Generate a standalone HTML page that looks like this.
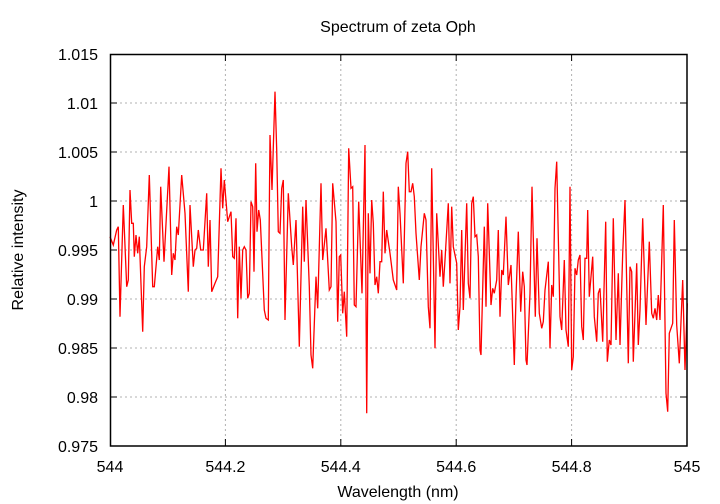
<!DOCTYPE html>
<html><head><meta charset="utf-8"><style>
body{margin:0;background:#fff;}
svg{display:block;font-family:"Liberation Sans",Arial,sans-serif;}
</style></head><body>
<svg id="s" width="720" height="504" viewBox="0 0 720 504" xmlns="http://www.w3.org/2000/svg">
<rect width="720" height="504" fill="#fff"/>
<g stroke="#b0b0b0" stroke-width="1" stroke-dasharray="2,3">
<line x1="110" y1="103" x2="687" y2="103"/><line x1="110" y1="152" x2="687" y2="152"/>
<line x1="110" y1="201" x2="687" y2="201"/><line x1="110" y1="250" x2="687" y2="250"/>
<line x1="110" y1="299" x2="687" y2="299"/><line x1="110" y1="348" x2="687" y2="348"/>
<line x1="110" y1="397" x2="687" y2="397"/>
<line x1="225.4" y1="54" x2="225.4" y2="446"/><line x1="340.8" y1="54" x2="340.8" y2="446"/>
<line x1="456.2" y1="54" x2="456.2" y2="446"/><line x1="571.6" y1="54" x2="571.6" y2="446"/>
</g>
<g stroke="#000" stroke-width="1">
<path d="M110 103h7M110 152h7M110 201h7M110 250h7M110 299h7M110 348h7M110 397h7M687 103h-7M687 152h-7M687 201h-7M687 250h-7M687 299h-7M687 348h-7M687 397h-7M225.4 446v-7M340.8 446v-7M456.2 446v-7M571.6 446v-7M225.4 54v7M340.8 54v7M456.2 54v7M571.6 54v7"/>
</g>
<polyline id="p" fill="none" stroke="#f00" stroke-width="1.3" stroke-linejoin="miter"/>
<rect x="110.5" y="54.5" width="576.5" height="391.5" fill="none" stroke="#000" stroke-width="1.5"/>
<g font-size="16" fill="#000" text-anchor="end">
<text x="98" y="60">1.015</text><text x="98" y="109">1.01</text><text x="98" y="158">1.005</text>
<text x="98" y="207">1</text><text x="98" y="256">0.995</text><text x="98" y="305">0.99</text>
<text x="98" y="354">0.985</text><text x="98" y="403">0.98</text><text x="98" y="452">0.975</text>
</g>
<g font-size="16" fill="#000" text-anchor="middle">
<text x="110" y="472">544</text><text x="225.4" y="472">544.2</text><text x="340.8" y="472">544.4</text>
<text x="456.2" y="472">544.6</text><text x="571.6" y="472">544.8</text><text x="687" y="472">545</text>
<text x="398" y="497">Wavelength (nm)</text>
<text x="398" y="32">Spectrum of zeta Oph</text>
<text transform="translate(23,250) rotate(-90)">Relative intensity</text>
</g>
</svg>
<script>
var a=[30,590,40,615,50,570,55,560,60,830,70,495,80,740,85,720,90,450,95,550,100,550,103,650,108,585,113,640,118,590,128,875,133,680,140,620,148,405,158,740,163,740,173,620,178,660,182,440,192,665,207,380,215,705,220,640,225,660,230,560,235,585,245,405,255,520,265,755,270,495,280,680,285,630,290,625,295,570,302,630,310,630,320,460,325,680,330,540,335,755,345,730,353,710,363,385,368,505,373,420,383,545,393,515,398,650,403,655,408,535,413,835,418,620,423,775,428,630,433,620,438,630,443,775,448,760,453,485,458,500,462,695,467,370,471,575,476,510,481,540,493,810,498,835,505,840,510,285,516,450,525,155,530,330,535,575,540,580,545,445,550,420,555,840,565,460,575,620,580,675,588,540,598,920,608,500,613,665,618,480,628,740,633,945,638,985,648,710,653,805,663,430,668,660,678,565,688,750,693,740,698,430,708,545,713,845,718,650,722,645,728,820,733,755,740,890,746,325,753,445,758,440,763,795,768,800,776,485,786,760,795,315,800,1120,805,520,810,700,815,480,820,550,825,735,830,710,835,760,840,665,845,665,850,455,855,640,860,570,870,640,880,720,890,750,895,440];
var b=[0,520,10,730,18,370,23,335,28,455,33,455,38,430,43,470,48,580,58,720,63,620,73,520,78,540,85,800,90,865,95,385,105,925,110,520,120,710,125,630,130,740,135,660,145,490,150,730,155,500,160,620,170,670,175,870,180,800,185,570,190,810,200,490,205,730,210,775,215,490,220,470,225,590,230,585,235,650,240,930,243,945,253,560,258,800,263,490,273,795,278,745,283,760,290,720,295,570,300,830,305,690,310,705,318,530,325,735,333,675,343,975,348,770,355,575,362,815,368,695,373,740,378,960,381,975,390,760,396,440,406,830,411,595,418,820,425,865,430,845,435,750,445,665,450,925,455,735,460,770,465,445,470,365,475,590,480,830,485,870,493,660,498,870,505,920,510,440,515,990,520,950,525,685,530,705,535,660,540,645,545,860,550,900,555,655,560,655,563,510,568,770,578,650,583,830,590,905,595,760,600,745,608,905,617,545,622,965,628,900,633,915,640,535,648,900,655,700,660,915,668,640,675,480,685,970,690,680,695,695,700,965,710,670,715,915,720,810,728,535,738,855,748,605,755,820,760,835,765,805,770,840,775,765,780,840,790,495,798,1060,803,1115,808,880,818,850,823,540,830,855,838,970,848,720,855,990,862,790];
var pts=[];
for(var i=0;i<a.length;i+=2)pts.push((100+a[i]/3).toFixed(1)+","+(40+a[i+1]/3).toFixed(1));
for(var i=0;i<b.length;i+=2)pts.push((400+b[i]/3).toFixed(1)+","+(40+b[i+1]/3).toFixed(1));
document.getElementById("p").setAttribute("points",pts.join(" "));
</script>
</body></html>
